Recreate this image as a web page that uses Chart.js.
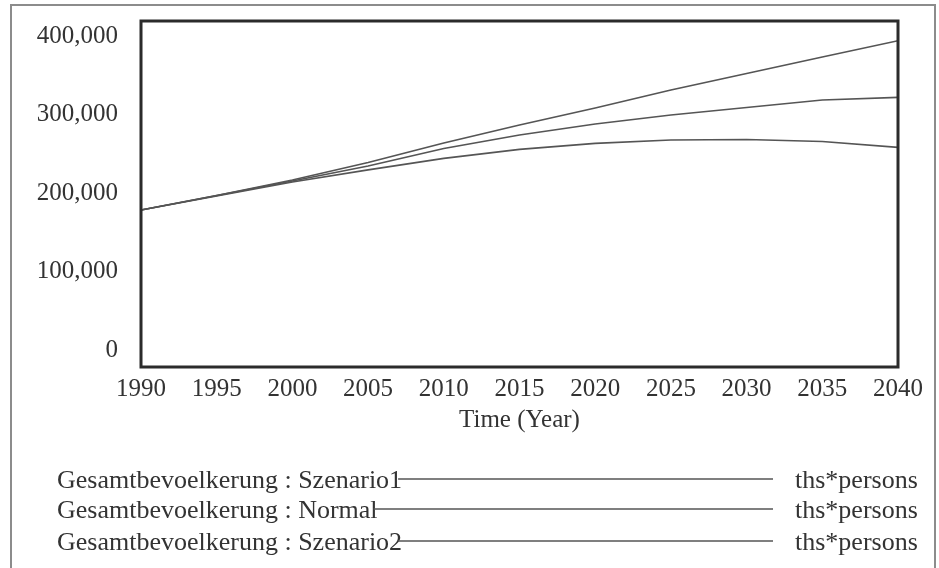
<!DOCTYPE html>
<html>
<head>
<meta charset="utf-8">
<script src="https://cdn.jsdelivr.net/npm/chart.js@4.4.1/dist/chart.umd.min.js"></script>
<style>
  html, body { margin: 0; padding: 0; background: #fff; }
  #wrap { position: relative; width: 939px; height: 568px; overflow: hidden; background: #fff; }
  #frame { position: absolute; left: 10px; top: 4px; width: 922px; height: 620px; border: 2px solid #8c8c8c; }
  #chart { position: absolute; left: 0; top: 0; }
</style>
</head>
<body>
<div id="wrap">
  <div id="frame"></div>
  <canvas id="chart" width="939" height="568"></canvas>
</div>
<script>
// simulation output, ths*persons per year
const years = [1990, 1995, 2000, 2005, 2010, 2015, 2020, 2025, 2030, 2035, 2040];
const szenario1 = [181500, 198300, 216200, 236400, 259000, 279800, 299400, 320200, 339300, 358400, 377200];
const normal    = [181500, 198300, 215000, 232400, 252600, 268200, 280900, 291300, 300000, 308700, 311800];
const szenario2 = [181500, 197700, 213900, 227800, 241100, 251500, 258500, 262400, 263000, 260700, 253800];

const seriesNames = [
  "Gesamtbevoelkerung : Szenario1",
  "Gesamtbevoelkerung : Normal",
  "Gesamtbevoelkerung : Szenario2",
];
const unitLabel = "ths*persons";
const yTicks = [0, 100000, 200000, 300000, 400000];
const xTicks = [1990, 1995, 2000, 2005, 2010, 2015, 2020, 2025, 2030, 2035, 2040];

const ink = "#333";
const lineColor = "#555";
const serif = "'Liberation Serif', 'Times New Roman', serif";

Chart.defaults.font.family = serif;
Chart.defaults.font.size = 25;
Chart.defaults.color = ink;

const toPoints = vals => years.map((yr, i) => ({ x: yr, y: vals[i] }));

// box around the plot area
const plotFrame = {
  id: "plotFrame",
  afterDatasetsDraw(chart) {
    const { ctx, chartArea: a } = chart;
    ctx.save();
    ctx.strokeStyle = "#2b2b2b";
    ctx.lineWidth = 3;
    ctx.strokeRect(a.left, a.top, a.right - a.left, a.bottom - a.top);
    ctx.restore();
  },
};

// legend rows: name, a line sample, unit on the right
const rowLegend = {
  id: "rowLegend",
  afterDraw(chart, args, opts) {
    const { ctx } = chart;
    ctx.save();
    ctx.font = "26px " + serif;
    ctx.textBaseline = "middle";
    chart.data.datasets.forEach((ds, i) => {
      const y = opts.rows[i];
      ctx.fillStyle = ink;
      ctx.textAlign = "left";
      ctx.fillText(ds.label, opts.x, y);
      const w = ctx.measureText(ds.label).width;
      ctx.strokeStyle = ds.borderColor;
      ctx.lineWidth = ds.borderWidth;
      ctx.beginPath();
      ctx.moveTo(opts.x + w - 4, y - 2);
      ctx.lineTo(opts.lineEnd, y - 2);
      ctx.stroke();
      ctx.fillText(unitLabel, opts.unitX, y);
    });
    ctx.restore();
  },
};

const mkSet = (label, vals) => ({
  label,
  data: toPoints(vals),
  borderColor: lineColor,
  borderWidth: 1.7,
  pointRadius: 0,
  tension: 0,
  fill: false,
  yAxisID: "y",
});

new Chart(document.getElementById("chart"), {
  type: "line",
  data: {
    datasets: [
      mkSet(seriesNames[0], szenario1),
      mkSet(seriesNames[1], normal),
      mkSet(seriesNames[2], szenario2),
    ],
  },
  options: {
    responsive: false,
    animation: false,
    devicePixelRatio: 1,
    layout: { padding: { left: 0, top: 21, right: 41, bottom: 0 } },
    scales: {
      x: {
        type: "linear",
        min: 1990,
        max: 2040,
        afterBuildTicks: s => { s.ticks = xTicks.map(v => ({ value: v })); },
        afterFit: s => { s.height = 201; },
        ticks: { padding: 7, callback: v => String(v), maxRotation: 0, autoSkip: false },
        grid: { display: false, drawTicks: false },
        border: { display: false },
        title: { display: true, text: "Time (Year)", padding: { top: 0, bottom: 133 } },
      },
      // data axis, 0 .. 400,000 over the full plot height
      y: {
        display: false,
        min: 0,
        max: 400000,
      },
      // label axis, tick text sits inside the plot height
      yLab: {
        position: "left",
        min: -21656,
        max: 419108,
        afterBuildTicks: s => { s.ticks = yTicks.map(v => ({ value: v })); },
        afterFit: s => {
          s.width = 141;
          s.paddingTop = 0;
          s.paddingBottom = 0;
        },
        ticks: { padding: 23, callback: v => v.toLocaleString("en-US") },
        grid: { display: false, drawTicks: false },
        border: { display: false },
      },
    },
    plugins: {
      legend: { display: false },
      tooltip: { enabled: false },
      rowLegend: { x: 57, rows: [481, 511, 543], lineEnd: 773, unitX: 795 },
    },
  },
  plugins: [plotFrame, rowLegend],
});
</script>
</body>
</html>
